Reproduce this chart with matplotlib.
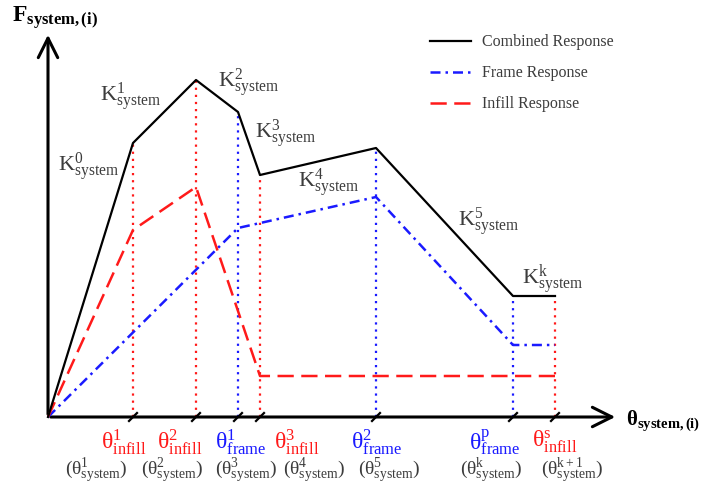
import matplotlib
matplotlib.use("Agg")
import matplotlib.pyplot as plt

plt.rcParams['font.family'] = ['Liberation Serif', 'DejaVu Serif']
plt.rcParams['mathtext.fontset'] = 'custom'
plt.rcParams['mathtext.rm'] = 'Liberation Serif'
plt.rcParams['mathtext.it'] = 'Liberation Serif:italic'
plt.rcParams['mathtext.bf'] = 'Liberation Serif:bold'

# backbone points of the combined curve (drift, force)
theta_sys = [0, 85, 148, 190, 212, 328, 465, 507]
F_combined = [0, 274, 337, 305, 242, 269, 121, 121]

theta_frame = [0, 190, 328, 465, 507]
F_frame = [0, 189, 220, 72, 72]

theta_infill = [0, 85, 148, 212, 507]
F_infill = [0, 187, 230, 41, 41]

# which component controls each transition point
point_src = ['infill', 'infill', 'frame', 'infill', 'frame', 'frame', 'infill']
point_sup = ['1', '2', '1', '3', '2', 'p', 's']
system_sup = ['1', '2', '3', '4', '5', 'k', 'k+1']

# stiffness labels: (superscript, theta, F)
k_labels = [('0', 10, 250), ('1', 52, 320), ('2', 170, 334),
            ('3', 207, 283), ('4', 250, 234), ('5', 410, 195), ('k', 474, 137)]

RED = '#ff1a1a'
BLUE = '#1a1aff'
GRAY = '#3c3c3c'
colors = {'infill': RED, 'frame': BLUE}

fig = plt.figure(figsize=(7.04, 4.94), dpi=100)
ax = fig.add_axes([0, 0, 1, 1])
ax.set_xlim(-48, 656)
ax.set_ylim(-77, 417)
ax.axis('off')

# axes with open arrow heads
ax.annotate('', xy=(570, 0), xytext=(0, 0),
            arrowprops=dict(arrowstyle='->,head_length=1.4,head_width=0.7', lw=2.2, color='black'))
ax.annotate('', xy=(0, 385), xytext=(0, 0),
            arrowprops=dict(arrowstyle='->,head_length=1.4,head_width=0.7', lw=2.2, color='black'))

# dotted guides down to the drift axis
for t, f, src in zip(theta_sys[1:], F_combined[1:], point_src):
    ax.plot([t, t], [0, f], color=colors[src], lw=1.6, ls=(0, (1, 2.2)), zorder=1)
    ax.plot([t - 4, t + 4], [-4, 4], color='black', lw=1.6, zorder=3)

l1, = ax.plot(theta_sys, F_combined, color='black', lw=1.6, zorder=4)
l2, = ax.plot(theta_frame, F_frame, color=BLUE, lw=1.8, dashes=(4, 2, 1, 2), zorder=3)
l3, = ax.plot(theta_infill, F_infill, color=RED, lw=1.8, dashes=(6.5, 3), zorder=3)

ax.legend([l1, l2, l3], ['Combined Response', 'Frame Response', 'Infill Response'],
          loc='upper left', bbox_to_anchor=(0.59, 0.96), frameon=False,
          fontsize=11.5, handlelength=2.6, labelspacing=0.95, handletextpad=0.7,
          labelcolor=GRAY)

# stiffness labels
for sup, t, f in k_labels:
    ax.text(t, f, r'$\mathrm{K}^{\mathrm{%s}}_{\mathrm{system}}$' % sup, fontsize=16,
            color=GRAY, ha='left', va='center')

# drift labels under the axis
label_shift = [-9, -16, 3, 37, 1, -18, 0]
sys_shift = [-37, -24, 8, 54, 13, -22, 17]
for t, src, sup, ssup, d1, d2 in zip(theta_sys[1:], point_src, point_sup,
                                     system_sup, label_shift, sys_shift):
    ax.text(t + d1, -25, r'$\mathrm{θ}^{\mathrm{%s}}_{\mathrm{%s}}$' % (sup, src),
            fontsize=17, color=colors[src], ha='center', va='center')
    ax.text(t + d2, -54, r'$(\mathrm{θ}^{\mathrm{%s}}_{\mathrm{system}})$' % ssup,
            fontsize=14, color=GRAY, ha='center', va='center')

ax.text(-36, 399, r'$\mathbf{F}_{\mathbf{system,(i)}}$', fontsize=17, ha='left', va='center')
ax.text(578, -4, r'$\mathbf{θ}_{\mathbf{system,(i)}}$', fontsize=15, ha='left', va='center')

fig.savefig('out.png', dpi=100)
